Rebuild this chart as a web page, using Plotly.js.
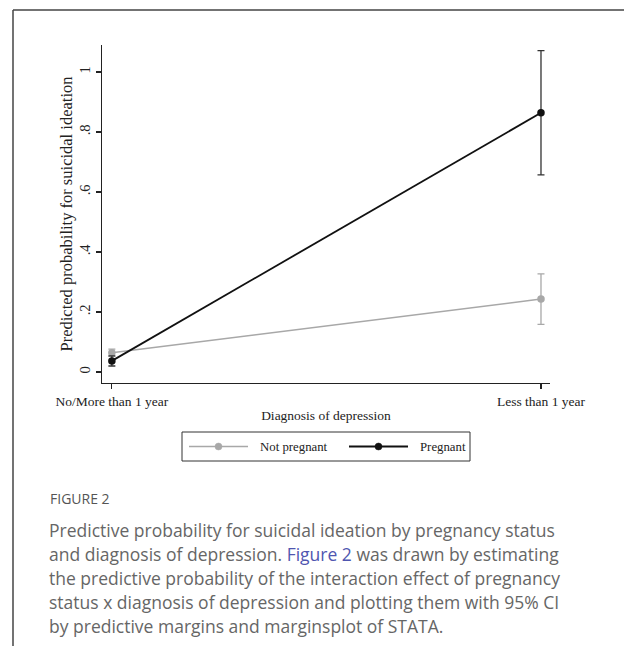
<!DOCTYPE html>
<html>
<head>
<meta charset="utf-8">
<script src="https://cdn.plot.ly/plotly-3.0.1.min.js"></script>
<style>
  html, body { margin: 0; padding: 0; background: #fff; }
  #chart { width: 624px; height: 646px; }
</style>
</head>
<body>
<div id="chart"></div>
<script>
// ---- data ----
const categories = ["No/More than 1 year", "Less than 1 year"];
const notPregnant = [0.064, 0.243];
const notPregnantCI = [0.012, 0.084];
const pregnant = [0.037, 0.864];
const pregnantCI = [0.017, 0.207];
const yTickVals = [0, 0.2, 0.4, 0.6, 0.8, 1];
const yTickText = ["0", ".2", ".4", ".6", ".8", "1"];
const seriesNames = ["Not pregnant", "Pregnant"];
const captionTitle = "FIGURE 2";
const captionLines = [
  "Predictive probability for suicidal ideation by pregnancy status",
  "and diagnosis of depression. <span style=\"color:#4f56b0\">Figure 2</span> was drawn by estimating",
  "the predictive probability of the interaction effect of pregnancy",
  "status x diagnosis of depression and plotting them with 95% CI",
  "by predictive margins and marginsplot of STATA."
];

// ---- styling ----
const seriesColors = ["#a8a8a8", "#111111"];
const seriesWidths = [1.5, 1.8];

// ---- layout helpers (pixel -> paper) ----
const W = 624, H = 646;
const L = 102, R = 550, T = 45, B = 383;
const px = x => (x - L) / (R - L);
const py = y => (B - y) / (B - T);
const serif = "Liberation Serif, Times New Roman, serif";
const sans = "Open Sans, Noto Sans, sans-serif";

const seriesY = [notPregnant, pregnant];
const seriesCI = [notPregnantCI, pregnantCI];
const traces = seriesNames.map((name, i) => ({
  x: categories, y: seriesY[i], name: name, type: "scatter", mode: "lines+markers",
  showlegend: false,
  line: { color: seriesColors[i], width: seriesWidths[i] },
  marker: { color: seriesColors[i], size: 7.5 },
  error_y: { type: "data", array: seriesCI[i], visible: true, color: i ? "#333" : seriesColors[i], thickness: 1.3, width: 3.5 }
}));

// ---- manual legend (Stata style: long key lines) ----
const legendBox = { x0: 182, x1: 470, y0: 432, y1: 461 };
const legendKeys = [{ lx0: 189, lx1: 248, tx: 258 }, { lx0: 349, lx1: 408, tx: 418 }];
const legY = (legendBox.y0 + legendBox.y1) / 2;

const shapes = [
  // figure frame (left and top rules)
  { type: "line", xref: "paper", yref: "paper", x0: px(13), x1: px(13), y0: py(10), y1: py(H + 5), line: { color: "#444", width: 1.5 } },
  { type: "line", xref: "paper", yref: "paper", x0: px(13), x1: px(W + 5), y0: py(10), y1: py(10), line: { color: "#444", width: 1.5 } },
  // legend box
  { type: "rect", xref: "paper", yref: "paper", x0: px(legendBox.x0), x1: px(legendBox.x1), y0: py(legendBox.y1), y1: py(legendBox.y0),
    line: { color: "#333", width: 1 }, fillcolor: "rgba(0,0,0,0)" }
];
const annotations = [];
legendKeys.forEach((k, i) => {
  shapes.push({ type: "line", xref: "paper", yref: "paper", x0: px(k.lx0), x1: px(k.lx1), y0: py(legY), y1: py(legY),
    line: { color: seriesColors[i], width: seriesWidths[i] } });
  const cx = px((k.lx0 + k.lx1) / 2), cy = py(legY);
  shapes.push({ type: "circle", xref: "paper", yref: "paper", xsizemode: "pixel", ysizemode: "pixel",
    xanchor: cx, yanchor: cy, x0: -3.5, x1: 3.5, y0: -3.5, y1: 3.5,
    fillcolor: seriesColors[i], line: { color: seriesColors[i], width: 0.5 } });
  annotations.push({ xref: "paper", yref: "paper", x: px(k.tx), y: cy, xanchor: "left", yanchor: "middle",
    text: seriesNames[i], showarrow: false, font: { family: serif, size: 12.8, color: "#222" } });
});

// ---- caption ----
annotations.push({ xref: "paper", yref: "paper", x: px(48), y: py(498), xanchor: "left", yanchor: "middle",
  text: captionTitle, showarrow: false, font: { family: sans, size: 14, color: "#555" } });
captionLines.forEach((t, i) => {
  annotations.push({ xref: "paper", yref: "paper", x: px(47), y: py(530 + i * 24), xanchor: "left", yanchor: "middle",
    text: t, showarrow: false, font: { family: sans, size: 17.5, color: "#666" } });
});

const layout = {
  width: W, height: H,
  margin: { l: L, r: W - R, t: T, b: H - B, pad: 0 },
  paper_bgcolor: "#fff", plot_bgcolor: "#fff",
  showlegend: false,
  font: { family: serif, color: "#222", size: 13 },
  xaxis: {
    type: "category", range: [-0.023, 1.021],
    showline: true, linecolor: "#222", linewidth: 1.4,
    showgrid: false, zeroline: false,
    ticks: "outside", ticklen: 5, tickcolor: "#222", tickwidth: 1.2,
    tickfont: { family: serif, size: 13.5, color: "#222" },
    title: { text: "Diagnosis of depression", font: { family: serif, size: 13.5, color: "#222" }, standoff: 3 }
  },
  yaxis: {
    range: [-0.0367, 1.09],
    tickvals: yTickVals, ticktext: yTickText, tickangle: -90,
    showline: true, linecolor: "#222", linewidth: 1.4,
    showgrid: false, zeroline: false,
    ticks: "outside", ticklen: 5, tickcolor: "#222", tickwidth: 1.2,
    ticklabelstandoff: 0,
    tickfont: { family: serif, size: 14.5, color: "#222" },
    title: { text: "Predicted probability for suicidal ideation", font: { family: serif, size: 16.5, color: "#222" }, standoff: 0 }
  },
  shapes: shapes,
  annotations: annotations
};

Plotly.newPlot("chart", traces, layout, { displayModeBar: false, staticPlot: true });
</script>
</body>
</html>
